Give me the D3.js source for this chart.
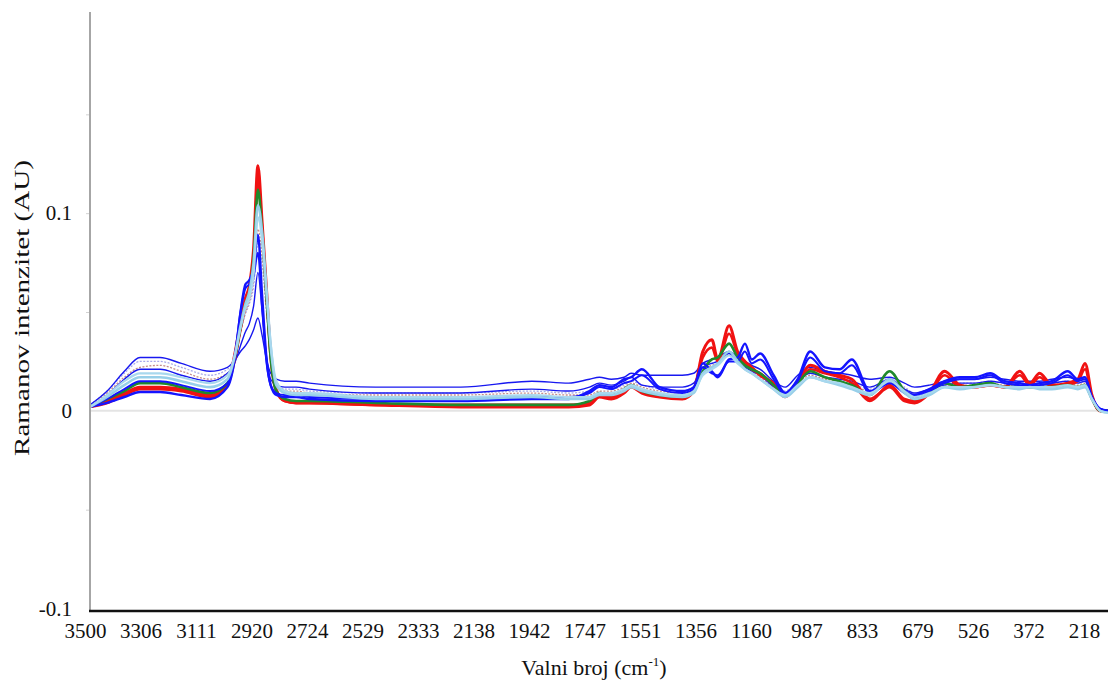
<!DOCTYPE html>
<html><head><meta charset="utf-8">
<script src="https://cdn.jsdelivr.net/npm/d3@7"></script>
<style>
body{margin:0;background:#fff}
svg{display:block}
</style>
</head><body>
<svg id="chart" width="1108" height="684"></svg>
<script>
// ---------- DATA ----------
const wavenumbers = [3500,3440,3380,3325,3255,3180,3080,3020,2993,2975,
 2958,2945,2930,2915,2900,2885,2870,2850,2820,2780,
 2733,2500,2200,1950,1820,
 1747,1712,1670,1625,1600,1562,1500,1420,1380,1348,
 1316,1295,1255,1225,1199,1175,1147,1105,1069,1030,
 991,950,909,875,825,770,729,701,660,618,
 576,535,492,452,410,382,355,321,277,249,
 229,210,187,165];

const xTickLabels = [3500,3306,3111,2920,2724,2529,2333,2138,1942,1747,1551,1356,1160,987,833,679,526,372,218];
const yTickValues = [-0.1, 0, 0.1];

const lavender = [0.003,0.010,0.019,0.025,0.025,0.022,0.018,0.021,0.029,0.040,
 0.049,0.054,0.063,0.085,0.074,0.050,0.029,0.015,0.011,0.011,
 0.010,0.009,0.009,0.010,0.009,
 0.010,0.012,0.011,0.013,0.015,0.013,0.011,0.010,0.012,0.021,
 0.024,0.025,0.029,0.025,0.023,0.021,0.018,0.013,0.010,0.015,
 0.019,0.017,0.016,0.014,0.011,0.016,0.012,0.009,0.011,0.014,
 0.014,0.014,0.015,0.014,0.014,0.014,0.014,0.014,0.015,0.014,
 0.015,0.007,0.001,0.000];

const rosy = [0.002,0.009,0.017,0.022,0.023,0.020,0.016,0.019,0.028,0.040,
 0.050,0.055,0.066,0.092,0.078,0.053,0.030,0.014,0.010,0.010,
 0.009,0.008,0.008,0.009,0.008,
 0.008,0.010,0.010,0.012,0.014,0.012,0.010,0.009,0.011,0.020,
 0.023,0.024,0.029,0.025,0.022,0.020,0.017,0.012,0.009,0.014,
 0.018,0.016,0.015,0.013,0.010,0.015,0.011,0.008,0.010,0.013,
 0.013,0.013,0.014,0.013,0.013,0.013,0.013,0.013,0.014,0.013,
 0.014,0.007,0.001,0.000];

const blueA = [0.003,0.010,0.020,0.027,0.027,0.024,0.020,0.022,0.026,0.030,
 0.033,0.036,0.041,0.047,0.038,0.026,0.019,0.016,0.015,0.015,
 0.014,0.012,0.012,0.015,0.014,
 0.016,0.017,0.016,0.017,0.019,0.018,0.018,0.018,0.019,0.024,
 0.026,0.027,0.030,0.027,0.025,0.023,0.021,0.015,0.012,0.018,
 0.022,0.020,0.019,0.018,0.016,0.017,0.014,0.012,0.013,0.015,
 0.016,0.016,0.017,0.016,0.015,0.015,0.015,0.016,0.017,0.016,
 0.017,0.008,0.001,0.000];

const blueB = [0.002,0.008,0.016,0.021,0.021,0.018,0.015,0.019,0.025,0.033,
 0.040,0.044,0.053,0.070,0.050,0.028,0.016,0.013,0.012,0.012,
 0.011,0.009,0.009,0.011,0.010,
 0.012,0.014,0.013,0.015,0.017,0.013,0.012,0.012,0.014,0.022,
 0.024,0.025,0.029,0.025,0.022,0.020,0.018,0.012,0.009,0.015,
 0.019,0.017,0.016,0.015,0.012,0.016,0.011,0.009,0.011,0.013,
 0.014,0.014,0.015,0.014,0.013,0.013,0.013,0.014,0.015,0.014,
 0.015,0.007,0.001,0.000];

const redA = [0.002,0.004,0.008,0.011,0.011,0.010,0.007,0.013,0.030,0.045,
 0.057,0.063,0.082,0.124,0.095,0.062,0.028,0.010,0.005,0.004,
 0.004,0.003,0.002,0.002,0.002,
 0.003,0.007,0.006,0.009,0.012,0.009,0.007,0.006,0.010,0.030,
 0.036,0.026,0.043,0.030,0.025,0.022,0.018,0.014,0.008,0.015,
 0.023,0.020,0.018,0.016,0.006,0.012,0.005,0.004,0.009,0.020,
 0.013,0.012,0.013,0.012,0.020,0.014,0.019,0.013,0.014,0.016,
 0.024,0.008,0.000,0.000];

const redB = [0.002,0.005,0.009,0.012,0.012,0.011,0.008,0.013,0.027,0.041,
 0.053,0.060,0.077,0.116,0.092,0.060,0.029,0.011,0.005,0.004,
 0.004,0.003,0.003,0.003,0.003,
 0.004,0.008,0.007,0.010,0.013,0.010,0.008,0.007,0.011,0.027,
 0.032,0.025,0.039,0.029,0.024,0.021,0.019,0.013,0.007,0.014,
 0.021,0.019,0.017,0.014,0.005,0.013,0.006,0.005,0.009,0.018,
 0.012,0.012,0.013,0.012,0.018,0.013,0.017,0.012,0.013,0.015,
 0.021,0.007,0.000,0.000];

const green = [0.002,0.006,0.010,0.014,0.014,0.012,0.009,0.014,0.028,0.042,
 0.054,0.060,0.077,0.112,0.090,0.058,0.027,0.010,0.006,0.005,
 0.005,0.004,0.003,0.003,0.003,
 0.005,0.009,0.008,0.011,0.013,0.010,0.008,0.007,0.010,0.020,
 0.026,0.027,0.034,0.027,0.023,0.021,0.019,0.013,0.008,0.014,
 0.020,0.017,0.015,0.013,0.008,0.020,0.010,0.006,0.009,0.014,
 0.012,0.013,0.014,0.012,0.012,0.012,0.012,0.012,0.013,0.012,
 0.013,0.006,0.000,0.000];

const blueC = [0.002,0.006,0.011,0.015,0.015,0.013,0.010,0.014,0.030,0.050,
 0.062,0.064,0.068,0.080,0.052,0.025,0.013,0.009,0.008,0.008,
 0.007,0.006,0.006,0.007,0.007,
 0.009,0.012,0.011,0.014,0.015,0.018,0.011,0.009,0.011,0.022,
 0.019,0.018,0.025,0.025,0.030,0.024,0.026,0.016,0.008,0.015,
 0.027,0.020,0.019,0.023,0.009,0.014,0.009,0.007,0.010,0.014,
 0.016,0.016,0.018,0.014,0.013,0.012,0.013,0.014,0.018,0.015,
 0.016,0.007,0.001,0.000];

const blueD = [0.002,0.004,0.007,0.0095,0.0095,0.008,0.006,0.012,0.028,0.050,
 0.064,0.066,0.072,0.089,0.058,0.027,0.013,0.008,0.007,0.007,
 0.006,0.005,0.005,0.006,0.006,
 0.010,0.013,0.012,0.016,0.017,0.021,0.012,0.010,0.012,0.024,
 0.020,0.017,0.026,0.027,0.034,0.026,0.029,0.018,0.009,0.016,
 0.030,0.022,0.021,0.026,0.010,0.015,0.010,0.008,0.011,0.015,
 0.017,0.017,0.019,0.015,0.014,0.013,0.014,0.015,0.020,0.016,
 0.017,0.007,0.001,0.000];

const lightA = [0.002,0.007,0.013,0.017,0.017,0.015,0.012,0.016,0.029,0.043,
 0.054,0.060,0.075,0.104,0.090,0.062,0.033,0.013,0.009,0.008,
 0.008,0.006,0.006,0.007,0.006,
 0.006,0.008,0.008,0.010,0.012,0.010,0.008,0.007,0.009,0.019,
 0.022,0.024,0.030,0.025,0.021,0.019,0.016,0.011,0.007,0.012,
 0.017,0.015,0.013,0.011,0.008,0.016,0.009,0.006,0.008,0.012,
 0.011,0.012,0.013,0.012,0.011,0.012,0.011,0.011,0.012,0.011,
 0.012,0.006,0.000,-0.001];

const lightB = [0.002,0.008,0.015,0.019,0.019,0.017,0.014,0.018,0.029,0.042,
 0.052,0.057,0.069,0.098,0.086,0.060,0.034,0.015,0.010,0.009,
 0.009,0.007,0.007,0.008,0.007,
 0.007,0.009,0.009,0.011,0.013,0.011,0.009,0.008,0.010,0.018,
 0.021,0.023,0.028,0.024,0.021,0.019,0.016,0.011,0.008,0.013,
 0.017,0.015,0.014,0.012,0.009,0.015,0.010,0.007,0.009,0.012,
 0.012,0.012,0.013,0.012,0.012,0.012,0.012,0.012,0.013,0.012,
 0.013,0.006,0.000,-0.001];

// ---------- STYLE / DRAW ORDER ----------
const seriesList = [
  {values: lavender, color: "#a9a9ea", width: 1.3, dash: "2,1.5"},
  {values: rosy,     color: "#c58d8a", width: 1.3, dash: "2,1.5"},
  {values: blueA,    color: "#1818f0", width: 1.4, dash: null},
  {values: blueB,    color: "#1818f0", width: 1.4, dash: null},
  {values: redA,     color: "#f01212", width: 3.0, dash: null},
  {values: redB,     color: "#f01212", width: 2.6, dash: null},
  {values: green,    color: "#1f8a2c", width: 2.6, dash: null},
  {values: blueC,    color: "#1414ff", width: 2.0, dash: null},
  {values: blueD,    color: "#1414ff", width: 2.4, dash: null},
  {values: lightA,   color: "#97cfe9", width: 2.6, dash: null},
  {values: lightB,   color: "#a8d8ee", width: 2.2, dash: null}
];

// ---------- LAYOUT ----------
const W = 1108, H = 684;
const x0 = 90, step = 55.5, xEnd = 1108, axisY = 611;
const FONT = "'Liberation Serif', 'Times New Roman', serif";
const svg = d3.select("#chart");
svg.append("rect").attr("width", W).attr("height", H).attr("fill", "#fff");

const xDomain = xTickLabels.concat([64]);
const x = d3.scaleLinear().domain(xDomain).range(xDomain.map((d, i) => x0 + i * step));
const y = d3.scaleLinear().domain([-0.1, 0.2]).range([608.5, 15.5]);

svg.append("defs").append("clipPath").attr("id", "plotclip")
  .append("rect").attr("x", x0).attr("y", 0).attr("width", xEnd - x0).attr("height", axisY);

// zero line
svg.append("line").attr("x1", x0).attr("x2", xEnd).attr("y1", y(0)).attr("y2", y(0))
  .attr("stroke", "#e4e4e4").attr("stroke-width", 2);

// minor y ticks
const yMinor = d3.axisLeft(y).tickValues([-0.05, 0.05, 0.1, 0.15]).tickSize(4).tickFormat("");
svg.append("g").attr("transform", `translate(${x0},0)`).call(yMinor)
  .call(g => g.select(".domain").remove())
  .call(g => g.selectAll("line").attr("stroke", "#d2d2d2"));

// y axis labels
const yAxis = d3.axisLeft(y).tickValues(yTickValues).tickSize(0).tickPadding(18)
  .tickFormat(d => d === 0 ? "0" : String(d));
svg.append("g").attr("transform", `translate(${x0},0)`).call(yAxis)
  .call(g => g.select(".domain").remove())
  .call(g => g.selectAll("text").style("font-family", FONT).style("font-size", "21px").attr("fill", "#111"));

// x axis labels
const xAxis = d3.axisBottom(x).tickValues(xTickLabels).tickSize(0).tickPadding(12)
  .tickFormat(d3.format("d"));
svg.append("g").attr("transform", `translate(0,${axisY})`).call(xAxis)
  .call(g => g.select(".domain").remove())
  .call(g => g.selectAll("text").style("font-family", FONT).style("font-size", "21px")
     .attr("fill", "#111").attr("dx", -5));

// series
const line = d3.line()
  .x((d, i) => x(wavenumbers[i]))
  .y(d => y(d))
  .curve(d3.curveMonotoneX);

const gLines = svg.append("g").attr("clip-path", "url(#plotclip)");
gLines.selectAll("path").data(seriesList).join("path")
  .attr("d", s => line(s.values))
  .attr("fill", "none")
  .attr("stroke", s => s.color)
  .attr("stroke-width", s => s.width)
  .attr("stroke-dasharray", s => s.dash)
  .attr("stroke-linejoin", "round");

// axis lines
svg.append("line").attr("x1", x0).attr("x2", x0).attr("y1", 12).attr("y2", axisY)
  .attr("stroke", "#a6a6a6").attr("stroke-width", 2);
svg.append("line").attr("x1", x0 - 1).attr("x2", xEnd).attr("y1", axisY).attr("y2", axisY)
  .attr("stroke", "#111").attr("stroke-width", 2.5);

// titles
svg.append("text")
  .attr("transform", "translate(29,308) rotate(-90)")
  .attr("text-anchor", "middle")
  .style("font-family", FONT).style("font-size", "22px")
  .attr("fill", "#111")
  .attr("textLength", 296)
  .attr("lengthAdjust", "spacingAndGlyphs")
  .text("Ramanov intenzitet (AU)");

const xt = svg.append("text")
  .attr("x", 594).attr("y", 675)
  .attr("text-anchor", "middle")
  .attr("fill", "#111")
  .style("font-family", FONT).style("font-size", "22px");
xt.append("tspan").text("Valni broj (cm");
xt.append("tspan").style("font-size", "13px").attr("dy", -9).text("-1");
xt.append("tspan").attr("dy", 9).text(")");
</script>
</body></html>
